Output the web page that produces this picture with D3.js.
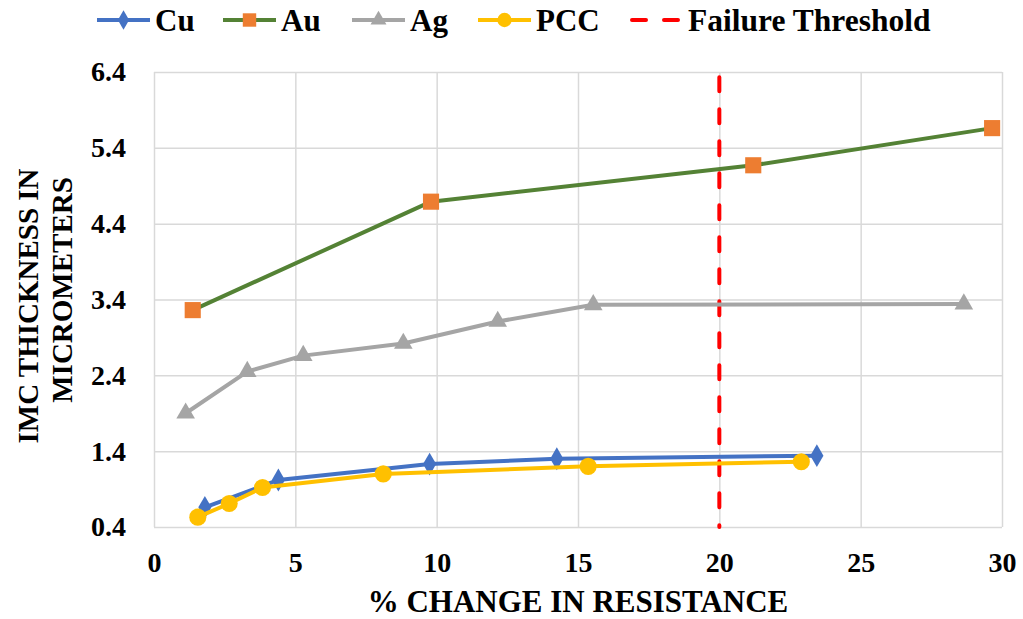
<!DOCTYPE html>
<html><head><meta charset="utf-8">
<script src="https://cdn.jsdelivr.net/npm/d3@7/dist/d3.min.js"></script>
<style>body{margin:0;background:#fff}svg{display:block}text{font-family:"Liberation Serif","Times New Roman",serif;font-weight:bold;fill:#000}</style>
</head><body><svg id="c" width="1023" height="619"></svg>
<script>
const cuX = [1.8, 4.4, 9.75, 14.25, 23.45];
const cuY = [0.66, 1.02, 1.23, 1.30, 1.34];
const auX = [1.37, 9.8, 21.2, 29.65];
const auY = [3.26, 4.69, 5.17, 5.66];
const agX = [1.12, 3.3, 5.28, 8.82, 12.16, 15.54, 28.65];
const agY = [1.90, 2.45, 2.66, 2.82, 3.11, 3.33, 3.34];
const pccX = [1.55, 2.66, 3.84, 8.11, 15.36, 22.9];
const pccY = [0.53, 0.71, 0.92, 1.10, 1.20, 1.26];
const thresholdX = 20;
const xTicks = [0, 5, 10, 15, 20, 25, 30];
const yTicks = [0.4, 1.4, 2.4, 3.4, 4.4, 5.4, 6.4];
const seriesNames = ["Cu", "Au", "Ag", "PCC", "Failure Threshold"];

const svg = d3.select("#c");
const x = d3.scaleLinear().domain([0, 30]).range([154, 1002]);
const y = d3.scaleLinear().domain([0.4, 6.4]).range([527, 72]);
const grid = "#d9d9d9";

// gridlines
const gx = svg.append("g").attr("transform", "translate(0,527)")
  .call(d3.axisBottom(x).tickValues(xTicks).tickSize(-455).tickFormat(d3.format("d")).tickPadding(25));
gx.select(".domain").remove();
gx.selectAll("line").attr("stroke", grid).attr("stroke-width", 1.5);
gx.selectAll("text").attr("font-size", 28).attr("font-family", "Liberation Serif").attr("font-weight", "bold").attr("fill", "#000");

const gy = svg.append("g").attr("transform", "translate(154,0)")
  .call(d3.axisLeft(y).tickValues(yTicks).tickSize(-848).tickFormat(d3.format(".1f")).tickPadding(28));
gy.select(".domain").remove();
gy.selectAll("line").attr("stroke", grid).attr("stroke-width", 1.5);
gy.selectAll("text").attr("font-size", 28).attr("font-family", "Liberation Serif").attr("font-weight", "bold").attr("fill", "#000");

// titles
svg.append("text").attr("x", 578).attr("y", 612).attr("text-anchor", "middle").attr("font-size", 31).text("% CHANGE IN RESISTANCE");
svg.append("text").attr("transform", "translate(38,306) rotate(-90)").attr("text-anchor", "middle").attr("font-size", 29).text("IMC THICKNESS IN");
svg.append("text").attr("transform", "translate(72,290) rotate(-90)").attr("text-anchor", "middle").attr("font-size", 29).text("MICROMETERS");

// threshold
svg.append("line").attr("x1", x(thresholdX)).attr("x2", x(thresholdX)).attr("y1", y(6.33)).attr("y2", y(0.4))
  .attr("stroke", "#ff0000").attr("stroke-width", 4).attr("stroke-dasharray", "14,18").attr("stroke-linecap", "round");

const line = d3.line().x(d => x(d[0])).y(d => y(d[1]));
const series = [
  {xs: agX, ys: agY, stroke: "#a5a5a5", fill: "#a5a5a5", sym: d3.symbolTriangle, size: 150},
  {xs: auX, ys: auY, stroke: "#548235", fill: "#ed7d31", sym: d3.symbolSquare, size: 260},
  {xs: cuX, ys: cuY, stroke: "#4472c4", fill: "#4472c4", sym: d3.symbolDiamond, size: 150},
  {xs: pccX, ys: pccY, stroke: "#ffc000", fill: "#ffc000", sym: d3.symbolCircle, size: 230}
];
series.forEach(s => {
  const pts = s.xs.map((v, i) => [v, s.ys[i]]);
  svg.append("path").datum(pts).attr("d", line).attr("fill", "none").attr("stroke", s.stroke).attr("stroke-width", 4).attr("stroke-linejoin", "round");
  svg.append("g").selectAll("path").data(pts).join("path")
    .attr("transform", d => `translate(${x(d[0])},${y(d[1])})`)
    .attr("d", d3.symbol().type(s.sym).size(s.size)).attr("fill", s.fill);
});

// legend
const leg = [
  {name: seriesNames[0], x0: 97, stroke: "#4472c4", fill: "#4472c4", sym: d3.symbolDiamond, size: 110},
  {name: seriesNames[1], x0: 223, stroke: "#548235", fill: "#ed7d31", sym: d3.symbolSquare, size: 180},
  {name: seriesNames[2], x0: 352, stroke: "#a5a5a5", fill: "#a5a5a5", sym: d3.symbolTriangle, size: 110},
  {name: seriesNames[3], x0: 478, stroke: "#ffc000", fill: "#ffc000", sym: d3.symbolCircle, size: 160}
];
leg.forEach(l => {
  svg.append("line").attr("x1", l.x0).attr("x2", l.x0 + 53).attr("y1", 20).attr("y2", 20).attr("stroke", l.stroke).attr("stroke-width", 4);
  svg.append("path").attr("transform", `translate(${l.x0 + 26.5},20)`).attr("d", d3.symbol().type(l.sym).size(l.size)).attr("fill", l.fill);
  svg.append("text").attr("x", l.x0 + 58).attr("y", 31).attr("font-size", 31).text(l.name);
});
svg.append("line").attr("x1", 632).attr("x2", 682).attr("y1", 20).attr("y2", 20).attr("stroke", "#ff0000").attr("stroke-width", 4).attr("stroke-dasharray", "14,18").attr("stroke-linecap", "round");
svg.append("text").attr("x", 688).attr("y", 31).attr("font-size", 31.5).text(seriesNames[4]);
</script></body></html>
